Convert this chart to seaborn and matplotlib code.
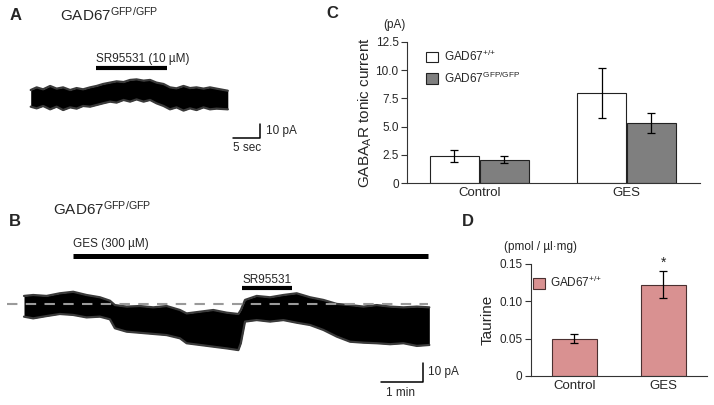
import numpy as np
import pandas as pd
import seaborn as sns
import matplotlib.pyplot as plt
from matplotlib.patches import Patch

# ---- data -------------------------------------------------------------
# A: GAD67 GFP/GFP trace envelope (time in s, current in pA rel. baseline)
a_time = [0, 1.1, 2.3, 3.6, 4.8, 6.0, 7.3, 8.5, 9.7, 11.0, 12.2, 13.4, 14.7, 15.9, 17.2,
          18.4, 19.6, 20.9, 22.1, 23.3, 24.6, 25.8, 27.0, 28.3, 29.5, 30.7, 32.0, 33.2, 34.4, 36.5]
a_top = [5.7, 7.6, 6.2, 8.6, 6.7, 7.6, 5.7, 7.1, 6.2, 7.6, 8.6, 10.0, 11.0, 11.9, 11.4,
         12.9, 13.3, 12.4, 12.9, 11.0, 10.0, 7.6, 6.9, 8.6, 7.1, 7.6, 6.7, 7.6, 6.7, 5.2]
a_bottom = [-6.2, -7.4, -5.7, -8.1, -6.2, -8.6, -6.7, -7.6, -5.7, -6.2, -5.0, -3.8, -2.6, -3.3, -1.4,
            -2.6, -1.0, -2.6, -1.4, -3.8, -5.7, -8.1, -6.7, -9.0, -7.4, -8.6, -6.7, -8.1, -7.6, -8.1]
a_sr = [12.0, 25.2]

# B: trace envelope (time in min, current in pA rel. baseline)
b_time = [0, 0.22, 0.54, 0.86, 1.18, 1.50, 1.82, 2.06, 2.18, 2.46, 2.78, 3.10, 3.42, 3.74, 3.90,
          4.22, 4.54, 4.86, 5.14, 5.20, 5.30, 5.58, 5.90, 6.22, 6.54, 6.86, 7.18, 7.50, 7.82,
          8.14, 8.46, 8.78, 9.10, 9.42, 9.72]
b_top = [4.4, 4.9, 4.4, 5.8, 6.6, 4.9, 3.7, 1.9, -0.4, -1.2, -0.9, -1.6, -0.9, -3.0, -4.8,
         -3.9, -3.0, -4.4, -5.1, -3.0, 2.3, 4.4, 3.7, 4.9, 5.8, 3.7, 2.3, 0.2, -0.4,
         -1.2, -0.4, -1.2, -1.6, -1.2, -1.6]
b_bottom = [-6.5, -7.4, -6.2, -5.1, -5.6, -6.9, -6.5, -7.9, -12.6, -14.4, -15.0, -15.6, -16.2, -17.9, -20.5,
            -21.4, -22.3, -23.2, -24.1, -20.5, -9.1, -8.3, -9.1, -8.3, -9.7, -10.9, -13.5, -17.0, -19.7,
            -20.2, -20.5, -21.0, -20.5, -21.9, -21.4]
b_ges = [1.17, 9.69]
b_sr = [5.23, 6.43]

# C: tonic current
c_groups = ['Control', 'GES']
genotypes = ['GAD67$^{\\mathrm{{+}/{+}}}$', 'GAD67$^{\\mathrm{GFP/GFP}}$']
c_mean = {genotypes[0]: [2.4, 7.95], genotypes[1]: [2.1, 5.35]}
c_err = {genotypes[0]: [0.5, 2.2], genotypes[1]: [0.28, 0.9]}

# D: taurine
d_groups = ['Control', 'GES']
d_mean = [0.050, 0.122]
d_err = [0.006, 0.018]

# ---- style ------------------------------------------------------------
sns.set_theme(style='white')
plt.rcParams['font.family'] = ['Liberation Sans', 'DejaVu Sans']
plt.rcParams['mathtext.fontset'] = 'custom'
plt.rcParams['mathtext.rm'] = 'Liberation Sans'
plt.rcParams['mathtext.it'] = 'Liberation Sans:italic'
plt.rcParams['mathtext.bf'] = 'Liberation Sans:bold'

W, H = 714, 405
fig = plt.figure(figsize=(W / 100, H / 100), dpi=100)


def axes_px(x0, y0, x1, y1):
    return fig.add_axes([x0 / W, 1 - y1 / H, (x1 - x0) / W, (y1 - y0) / H])


def text_px(x, y, s, **kw):
    fig.text(x / W, 1 - y / H, s, **kw)


def draw_trace(ax, t, lo, hi):
    ax.fill_between(t, lo, hi, color='black', lw=0)
    ax.plot(t, hi, color='#3a3a3a', lw=1.6)
    ax.plot(t, lo, color='#3a3a3a', lw=1.6)


gfp = 'GAD67$^{\\mathrm{GFP/GFP}}$'

# ---- panel A ----------------------------------------------------------
ax_a = axes_px(0, 40, 300, 160)
ax_a.set_xlim(-30.7 / 5.4, (300 - 30.7) / 5.4)
ax_a.set_ylim((98 - 160) / 1.4, (98 - 40) / 1.4)
ax_a.axis('off')
draw_trace(ax_a, a_time, a_bottom, a_top)
ax_a.plot(a_sr, [21.6, 21.6], color='black', lw=3, solid_capstyle='butt')
ax_a.text(a_sr[0], 27.9, 'SR95531 (10 µM)', ha='left', va='center', fontsize=8.5)
ax_a.plot([37.5, 42.5, 42.5], [-28.6, -28.6, -18.6], color='black', lw=1.1, clip_on=False)
ax_a.text(43.6, -23.6, '10 pA', ha='left', va='center', fontsize=8.5)
ax_a.text(40.0, -35.7, '5 sec', ha='center', va='center', fontsize=8.5)
text_px(16, 15, 'A', fontsize=12, fontweight='bold', ha='center', va='center')
text_px(60, 15, gfp, fontsize=11, ha='left', va='center')

# ---- panel B ----------------------------------------------------------
ax_b = axes_px(0, 230, 440, 405)
ax_b.set_xlim(-24 / 41.7, (440 - 24) / 41.7)
ax_b.set_ylim((304.3 - 405) / 1.9, (304.3 - 230) / 1.9)
ax_b.axis('off')
draw_trace(ax_b, b_time, b_bottom, b_top)
ax_b.plot([-0.41, 9.7], [0, 0], color='#9a9a9a', lw=1.5, dashes=(5, 4))
ax_b.plot(b_ges, [25.6, 25.6], color='black', lw=3.6, solid_capstyle='butt')
ax_b.text(b_ges[0], 31.6, 'GES (300 µM)', ha='left', va='center', fontsize=8.5)
ax_b.plot(b_sr, [8.6, 8.6], color='black', lw=3, solid_capstyle='butt')
ax_b.text(b_sr[0], 12.8, 'SR95531', ha='left', va='center', fontsize=8.5)
ax_b.plot([8.56, 9.56, 9.56], [-41.05, -41.05, -31.05], color='black', lw=1.1, clip_on=False)
ax_b.text(9.69, -35.6, '10 pA', ha='left', va='center', fontsize=8.5)
ax_b.text(9.04, -46.7, '1 min', ha='center', va='center', fontsize=8.5)
text_px(15, 221, 'B', fontsize=12, fontweight='bold', ha='center', va='center')
text_px(53, 209, gfp, fontsize=11, ha='left', va='center')

# ---- panel C ----------------------------------------------------------
df_c = pd.DataFrame({
    'condition': c_groups * 2,
    'genotype': [genotypes[0]] * 2 + [genotypes[1]] * 2,
    'current': c_mean[genotypes[0]] + c_mean[genotypes[1]],
})
ax_c = axes_px(407, 41.7, 700, 183.3)
c_colors = ['white', '#7f7f7f']
sns.barplot(data=df_c, x='condition', y='current', hue='genotype', hue_order=genotypes,
            palette=c_colors, saturation=1, edgecolor='#222222', linewidth=0.8, width=0.68,
            gap=0.03, errorbar=None, legend=False, ax=ax_c)
for cont, g in zip(ax_c.containers, genotypes):
    xs = [b.get_x() + b.get_width() / 2 for b in cont]
    ax_c.errorbar(xs, c_mean[g], yerr=c_err[g], fmt='none', ecolor='black',
                  elinewidth=0.9, capsize=3, capthick=0.9)
ax_c.set_xlim(-0.493, 1.5)
ax_c.set_ylim(0, 12.5)
ax_c.set_yticks([0, 2.5, 5, 7.5, 10, 12.5])
ax_c.set_yticklabels(['0', '2.5', '5.0', '7.5', '10.0', '12.5'])
ax_c.set_xlabel('')
ax_c.set_ylabel('GABA$_{\\mathrm{A}}$R tonic current', fontsize=11)
ax_c.yaxis.set_label_coords(-0.112, 0.5)
handles = [Patch(facecolor=c, edgecolor='#222222', linewidth=0.8) for c in c_colors]
ax_c.legend(handles, genotypes, loc='upper left', bbox_to_anchor=(0.065, 0.95), frameon=False,
            fontsize=8.5, handlelength=1.0, handleheight=1.0, handletextpad=0.5,
            labelspacing=0.55, borderpad=0, borderaxespad=0)
text_px(332, 14, 'C', fontsize=12, fontweight='bold', ha='center', va='center')
text_px(394, 25, '(pA)', fontsize=8.5, ha='center', va='center')

# ---- panel D ----------------------------------------------------------
pink = '#d99191'
ax_d = axes_px(530.7, 264, 707, 376)
sns.barplot(x=d_groups, y=d_mean, color=pink, saturation=1, edgecolor='#4a3030', linewidth=0.8,
            width=0.506, errorbar=None, ax=ax_d)
xs = [b.get_x() + b.get_width() / 2 for b in ax_d.containers[0]]
ax_d.errorbar(xs, d_mean, yerr=d_err, fmt='none', ecolor='black',
              elinewidth=0.9, capsize=3, capthick=0.9)
ax_d.text(xs[1], d_mean[1] + d_err[1] + 0.002, '*', ha='center', va='bottom', fontsize=10)
ax_d.set_xlim(-0.492, 1.489)
ax_d.set_ylim(0, 0.15)
ax_d.set_yticks([0, 0.05, 0.10, 0.15])
ax_d.set_yticklabels(['0', '0.05', '0.10', '0.15'])
ax_d.set_ylabel('Taurine', fontsize=11)
ax_d.yaxis.set_label_coords(-0.205, 0.5)
ax_d.legend([Patch(facecolor=pink, edgecolor='#4a3030', linewidth=0.8)], [genotypes[0]],
            loc='upper left', bbox_to_anchor=(0.013, 0.9), frameon=False, fontsize=8.5,
            handlelength=1.0, handleheight=1.0, handletextpad=0.4, borderpad=0, borderaxespad=0)
text_px(468, 222, 'D', fontsize=12, fontweight='bold', ha='center', va='center')
text_px(540, 247, '(pmol / µl·mg)', fontsize=8.5, ha='center', va='center')

for ax in (ax_c, ax_d):
    sns.despine(ax=ax)
    for s in ('left', 'bottom'):
        ax.spines[s].set_linewidth(0.8)
        ax.spines[s].set_color('#333333')
    ax.tick_params(axis='y', direction='out', length=4, width=0.8, color='#333333',
                   labelsize=8.5, pad=2, left=True)
    ax.tick_params(axis='x', length=0, labelsize=9.5, pad=3)

fig.savefig('out.png', dpi=100)
